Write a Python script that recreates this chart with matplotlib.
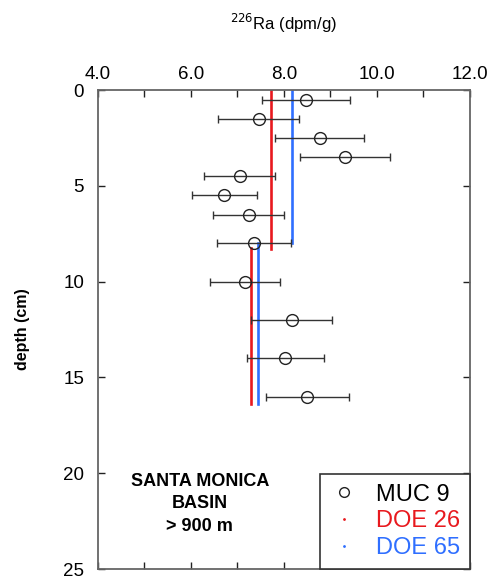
import matplotlib
matplotlib.use('Agg')
import matplotlib.pyplot as plt
from matplotlib.lines import Line2D
import numpy as np

plt.rcParams['font.family'] = ['Liberation Sans', 'DejaVu Sans']

# MUC 9 core: 226Ra (dpm/g) vs depth (cm)
muc9_depth = [0.5, 1.5, 2.5, 3.5, 4.5, 5.5, 6.5, 8.0, 10.0, 12.0, 14.0, 16.0]
muc9_ra = [8.47, 7.46, 8.77, 9.32, 7.05, 6.72, 7.24, 7.35, 7.16, 8.17, 8.03, 8.50]
muc9_err = [0.95, 0.87, 0.96, 0.97, 0.76, 0.70, 0.76, 0.80, 0.76, 0.87, 0.83, 0.89]

# DOE averages (two depth intervals each)
doe26_depth = [0.0, 8.3, np.nan, 8.25, 16.4]
doe26_ra = [7.73, 7.73, np.nan, 7.30, 7.30]
doe65_depth = [0.0, 8.0, np.nan, 8.0, 16.4]
doe65_ra = [8.18, 8.18, np.nan, 7.45, 7.45]

red = '#e8191e'
blue = '#2f6fff'

fig = plt.figure(figsize=(4.88, 5.83), dpi=100)
ax = fig.add_axes([0.2008, 0.024, 0.762, 0.8216])

ax.plot(doe26_ra, doe26_depth, '-', color=red, lw=1.9, zorder=2)
ax.plot(doe65_ra, doe65_depth, '-', color=blue, lw=1.9, zorder=2)
ax.errorbar(muc9_ra, muc9_depth, xerr=muc9_err, fmt='none', ecolor='#333333',
            elinewidth=1.0, capsize=3, capthick=1.0, zorder=3)
ax.plot(muc9_ra, muc9_depth, 'o', mfc='none', mec='#222222', ms=8.5,
        mew=1.0, zorder=4)

ax.set_xlim(4, 12)
ax.set_ylim(25, 0)
ax.set_xticks(np.arange(4, 12.1, 1.0))
ax.set_xticklabels(['4.0', '', '6.0', '', '8.0', '', '10.0', '', '12.0'])
ax.set_yticks([0, 5, 10, 15, 20, 25])
ax.xaxis.set_ticks_position('both')
ax.yaxis.set_ticks_position('both')
ax.tick_params(axis='x', which='both', direction='in', labeltop=True,
               labelbottom=False, labelsize=13.5, length=5, width=1,
               color='#222222', pad=5)
ax.tick_params(axis='y', which='both', direction='in', labelleft=True,
               labelright=False, labelsize=13.5, length=5, width=1,
               color='#222222', pad=10)
for s in ax.spines.values():
    s.set_color('#666666')
    s.set_linewidth(1.3)

ax.xaxis.set_label_position('top')
ax.set_xlabel('$^{226}$Ra (dpm/g)', fontsize=12, labelpad=26)
ax.set_ylabel('depth (cm)', fontsize=11.5, fontweight='bold', labelpad=24)

ax.text(6.19, 21.6, 'SANTA MONICA\nBASIN\n> 900 m', ha='center', va='center',
        fontsize=13, fontweight='bold', linespacing=1.45)

handles = [
    Line2D([], [], ls='none', marker='o', mfc='none', mec='#222222', ms=7, mew=1),
    Line2D([], [], ls='none', marker='.', color=red, ms=2),
    Line2D([], [], ls='none', marker='.', color=blue, ms=2),
]
leg = ax.legend(handles, ['MUC 9', 'DOE 26', 'DOE 65'], loc='lower right',
                bbox_to_anchor=(1.0, 0.0), fontsize=17, frameon=True,
                fancybox=False, edgecolor='#333333', framealpha=1,
                handlelength=1.2, handletextpad=0.75, labelspacing=0.2,
                borderpad=0.42, borderaxespad=0.0)
leg.get_frame().set_linewidth(1.2)
for t, c in zip(leg.get_texts(), ['black', red, blue]):
    t.set_color(c)

fig.savefig('out.png', dpi=100)
